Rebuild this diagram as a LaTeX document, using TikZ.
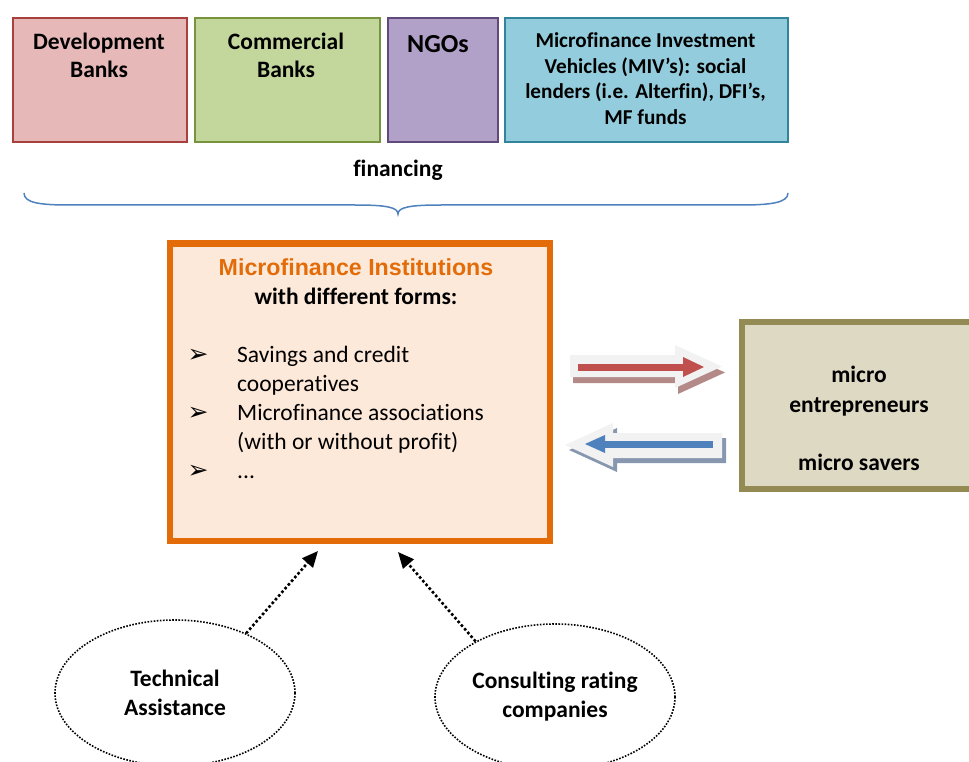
\documentclass[tikz,border=0pt]{standalone}
\usepackage{fontspec}
\setmainfont{Carlito}[Ligatures={NoCommon}]
\newfontfamily\arialfont{Liberation Sans}
\newfontfamily\dejavufont{DejaVu Sans}
\usetikzlibrary{shapes.geometric,arrows.meta}
\definecolor{devfill}{HTML}{E6B9B8}
\definecolor{devdraw}{HTML}{A8403D}
\definecolor{comfill}{HTML}{C3D69B}
\definecolor{comdraw}{HTML}{77933C}
\definecolor{ngofill}{HTML}{B1A0C7}
\definecolor{ngodraw}{HTML}{604A7B}
\definecolor{mivfill}{HTML}{93CDDD}
\definecolor{mivdraw}{HTML}{31849B}
\definecolor{mfifill}{HTML}{FDE9D9}
\definecolor{mfidraw}{HTML}{E36C09}
\definecolor{rbfill}{HTML}{DDD9C3}
\definecolor{rbdraw}{HTML}{948A54}
\definecolor{bracecol}{HTML}{4F81BD}
\definecolor{redarrow}{HTML}{C0504D}
\definecolor{redshadow}{HTML}{B48A89}
\definecolor{bluearrow}{HTML}{4F81BD}
\definecolor{blueshadow}{HTML}{8797AF}
\definecolor{arrowbody}{HTML}{F2F2F2}
\begin{document}
\begin{tikzpicture}[x=1pt,y=-1pt,
  topbox/.style={draw, line width=2pt, inner sep=0pt, anchor=north west},
  btxt/.style={font=\fontsize{23.5}{28.7}\selectfont\bfseries, anchor=base, inner sep=0pt},
  mtxt/.style={font=\fontsize{21.2}{25.5}\selectfont\bfseries, anchor=base, inner sep=0pt},
  rtxt/.style={font=\fontsize{23.5}{28.7}\selectfont, anchor=base west, inner sep=0pt},
  bulletmark/.style={font=\dejavufont\fontsize{25}{28}\selectfont, anchor=base, inner sep=0pt},
  bigbox/.style={draw, line width=6.5pt, inner sep=0pt, anchor=north west},
  cloud/.style={ellipse, draw, line width=1.6pt, dash pattern=on 1.6pt off 1.5pt,
    minimum width=240pt, minimum height=146pt, inner sep=0pt, align=center,
    font=\fontsize{23.5}{29}\selectfont\bfseries},
  dotarrow/.style={line width=2.6pt, dash pattern=on 2.6pt off 2.3pt,
    -{Triangle[length=16pt,width=14pt]}},
]
\clip (0,0) rectangle (969,762);
\useasboundingbox (0,0) rectangle (969,762);

% top boxes
\node[topbox, fill=devfill, draw=devdraw, minimum width=174pt, minimum height=124pt] (dev) at (12,17) {};
\node[topbox, fill=comfill, draw=comdraw, minimum width=185pt, minimum height=124pt] (com) at (194,17) {};
\node[topbox, fill=ngofill, draw=ngodraw, minimum width=110pt, minimum height=124pt] (ngo) at (387,17) {};
\node[topbox, fill=mivfill, draw=mivdraw, minimum width=283pt, minimum height=124pt] (miv) at (504,17) {};

\node[btxt] (dev1) at (99,50) {Development};
\node[btxt] (dev2) at (99,78) {Banks};
\node[btxt] (com1) at (286,50) {Commercial};
\node[btxt] (com2) at (286,78) {Banks};
\node[btxt, font=\fontsize{26}{30}\selectfont\bfseries] (ngo1) at (438,53) {NGOs};
\node[mtxt] (miv1) at (645.5,48) {Microfinance Investment};
\node[mtxt] (miv2) at (645.5,73.5) {Vehicles (MIV’s): social};
\node[mtxt] (miv3) at (645.5,99) {lenders (i.e. Alterfin), DFI’s,};
\node[mtxt] (miv4) at (645.5,125) {MF funds};

% financing + brace
\node[btxt] (fin) at (398,177) {financing};
\draw[bracecol, line width=1.5pt] (24,193) .. controls (24,203) and (40,205) .. (70,205)
  -- (355,205) .. controls (385,205) and (398,207) .. (398,214)
  .. controls (398,207) and (411,205) .. (441,205) -- (740,205)
  .. controls (770,205) and (788,203) .. (788,193);

% MFI box
\node[bigbox, fill=mfifill, draw=mfidraw, minimum width=380pt, minimum height=297.5pt] (mfi) at (166.5,240) {};
\node[btxt, font=\arialfont\fontsize{23.2}{28}\selectfont\bfseries, text=mfidraw] (mfi1) at (356,275) {Microfinance Institutions};
\node[btxt] (mfi2) at (356,304) {with different forms:};
\node[bulletmark] (bu1) at (198,362) {➢};
\node[rtxt] (li1) at (237,362) {Savings and credit};
\node[rtxt] (li2) at (237,391) {cooperatives};
\node[bulletmark] (bu2) at (198,420) {➢};
\node[rtxt] (li3) at (237,420) {Microfinance associations};
\node[rtxt] (li4) at (237,449) {(with or without profit)};
\node[bulletmark] (bu3) at (198,478) {➢};
\node[rtxt] (li5) at (237,478) {...};

% right box
\node[bigbox, fill=rbfill, draw=rbdraw, minimum width=239.5pt, minimum height=167pt] (rb) at (738.5,318.5) {};
\node[btxt] (rb1) at (859,382) {micro};
\node[btxt] (rb2) at (859,412) {entrepreneurs};
\node[btxt] (rb3) at (859,470) {micro savers};

% red block arrow (to the right)
\fill[redshadow] (573,361) -- (678,361) -- (678,351) -- (725,372.5) -- (678,394) -- (678,383) -- (573,383) -- cycle;
\fill[arrowbody] (570,355) -- (675,355) -- (675,345) -- (722,366.5) -- (675,388) -- (675,377) -- (570,377) -- cycle;
\draw[redarrow, line width=7pt] (578,367) -- (684,367);
\fill[redarrow] (683,357) -- (704,367) -- (683,377) -- cycle;

% blue block arrow (to the left)
\fill[blueshadow] (569,450) -- (617,428) -- (617,438) -- (726,438) -- (726,463) -- (617,463) -- (617,472) -- cycle;
\fill[arrowbody] (565,445) -- (613,423) -- (613,433) -- (722,433) -- (722,458) -- (613,458) -- (613,467) -- cycle;
\draw[bluearrow, line width=7pt] (713,444) -- (604,444);
\fill[bluearrow] (605,435) -- (585,444) -- (605,453) -- cycle;

% ellipses
\node[cloud] (ta) at (175,693) {Technical\\Assistance};
\node[cloud] (cr) at (555,697) {Consulting rating\\companies};

\coordinate (tip1) at (318,551);
\coordinate (tip2) at (398,552);
\draw[dotarrow] (ta.40) -- (tip1);
\draw[dotarrow] (cr.145) -- (tip2);
\end{tikzpicture}
\end{document}
